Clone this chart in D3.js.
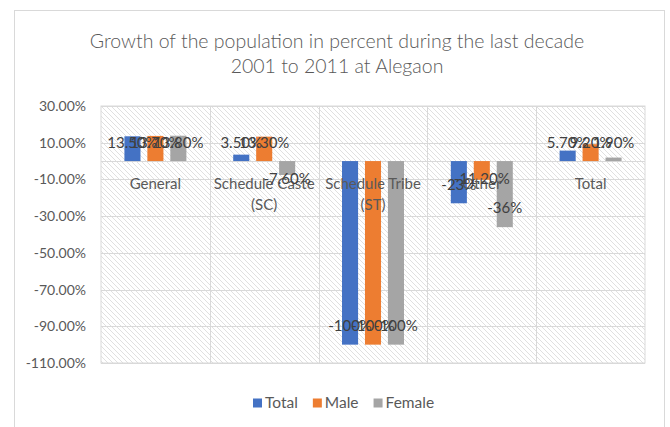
<!DOCTYPE html>
<html>
<head>
<meta charset="utf-8">
<script src="https://cdn.jsdelivr.net/npm/d3@7"></script>
<style>
  body { margin: 0; background: #fff; }
  text { font-family: Lato, "Open Sans", sans-serif; }
</style>
</head>
<body>
<div class="chart"></div>
<script>
// data
const categories = ["General", "Schedule Caste (SC)", "Schedule Tribe (ST)", "Other", "Total"]
const series = ["Total", "Male", "Female"]
const totalValues = [13.5, 3.5, -100, -23, 5.7]
const maleValues = [13.7, 13.3, -100, -10.2, 9.2]
const femaleValues = [13.8, -7.6, -100, -36, 1.9]
const totalLabels = ["13.50%", "3.50%", "-100%", "-23%", "5.70%"]
const maleLabels = ["13.70%", "13.30%", "-100%", "-11.20%", "9.20%"]
const femaleLabels = ["13.80%", "-7.60%", "-100%", "-36%", "1.90%"]
const yTicks = [30, 10, -10, -30, -50, -70, -90, -110]
const titleLines = ["Growth of the population in percent during the last decade", "2001 to 2011 at Alegaon"]

const colors = ["#4472C4", "#ED7D31", "#A5A5A5"]
const values = [totalValues, maleValues, femaleValues]
const labels = [totalLabels, maleLabels, femaleLabels]

const w = 670
const h = 427
const plot = {left: 101, right: 645, top: 106, bottom: 363}

const svg = d3.select(".chart")
  .append("svg")
  .attr("width", w)
  .attr("height", h)

// hatch pattern for plot area
const pat = svg.append("defs").append("pattern")
  .attr("id", "hatch")
  .attr("patternUnits", "userSpaceOnUse")
  .attr("width", 5)
  .attr("height", 5)
pat.append("rect").attr("width", 5).attr("height", 5).attr("fill", "#fff")
pat.append("path")
  .attr("d", "M-1,-1 L6,6 M4,-1 L6,1 M-1,4 L1,6")
  .attr("stroke", "#dcdcdc")
  .attr("stroke-width", 0.9)

// chart border
svg.append("rect")
  .attr("x", 14.5).attr("y", 10.5)
  .attr("width", 650).attr("height", 430)
  .attr("fill", "none")
  .attr("stroke", "#d9d9d9")

// title
svg.append("g").selectAll("text")
  .data(titleLines)
  .enter()
  .append("text")
  .attr("x", 337)
  .attr("y", (d, i) => 48 + i * 25)
  .attr("text-anchor", "middle")
  .attr("fill", "#595959")
  .style("font-size", "19.5px")
  .style("font-weight", 300)
  .text(d => d)

// scales
const x0 = d3.scaleBand()
  .domain(categories)
  .range([plot.left, plot.right])

const x1 = d3.scaleBand()
  .domain(series)
  .range([0, x0.bandwidth()])
  .paddingInner(0.3)
  .paddingOuter(1.02)

const y = d3.scaleLinear()
  .domain([-110, 30])
  .range([plot.bottom, plot.top])

// plot area
svg.append("rect")
  .attr("x", plot.left).attr("y", plot.top)
  .attr("width", plot.right - plot.left)
  .attr("height", plot.bottom - plot.top)
  .attr("fill", "url(#hatch)")
  .attr("stroke", "#d9d9d9")

// horizontal gridlines
svg.append("g").selectAll("line")
  .data(yTicks)
  .enter()
  .append("line")
  .attr("x1", plot.left).attr("x2", plot.right)
  .attr("y1", d => Math.round(y(d)) + 0.5)
  .attr("y2", d => Math.round(y(d)) + 0.5)
  .attr("stroke", "#d9d9d9")

// vertical gridlines at category edges
svg.append("g").selectAll("line")
  .data(categories.slice(1))
  .enter()
  .append("line")
  .attr("x1", d => Math.round(x0(d)) + 0.5)
  .attr("x2", d => Math.round(x0(d)) + 0.5)
  .attr("y1", plot.top).attr("y2", plot.bottom)
  .attr("stroke", "#d9d9d9")

// y axis
const yAxis = d3.axisLeft(y)
  .tickValues(yTicks)
  .tickSize(0)
  .tickPadding(15)
  .tickFormat(d => d.toFixed(2) + "%")
const yG = svg.append("g")
  .attr("transform", "translate(" + plot.left + ",0)")
  .call(yAxis)
yG.select(".domain").remove()
yG.selectAll("text")
  .attr("fill", "#595959")
  .style("font-size", "14px")
  .style("font-family", "Lato, sans-serif")

// zero line
svg.append("line")
  .attr("x1", plot.left).attr("x2", plot.right)
  .attr("y1", Math.round(y(0)) + 0.5).attr("y2", Math.round(y(0)) + 0.5)
  .attr("stroke", "#d9d9d9")

// bars
series.forEach((s, si) => {
  svg.append("g").selectAll("rect")
    .data(values[si])
    .enter()
    .append("rect")
    .attr("x", (d, i) => x0(categories[i]) + x1(s))
    .attr("y", d => y(Math.max(0, d)))
    .attr("width", x1.bandwidth())
    .attr("height", d => Math.abs(y(d) - y(0)))
    .attr("fill", colors[si])
})

// category labels, drawn next to the zero line
const catG = svg.append("g")
categories.forEach(c => {
  const lines = c.indexOf("(") > 0 ? [c.slice(0, c.indexOf("(")).trim(), c.slice(c.indexOf("("))] : [c]
  catG.append("text")
    .attr("x", x0(c) + x0.bandwidth() / 2)
    .attr("y", y(0) + 28)
    .attr("text-anchor", "middle")
    .attr("fill", "#595959")
    .style("font-size", "15px")
    .selectAll("tspan")
    .data(lines)
    .enter()
    .append("tspan")
    .attr("x", x0(c) + x0.bandwidth() / 2)
    .attr("dy", (d, i) => i == 0 ? 0 : 21)
    .text(d => d)
})

// data labels: inside end if bar is long, else just outside near the axis
series.forEach((s, si) => {
  svg.append("g").selectAll("text")
    .data(values[si])
    .enter()
    .append("text")
    .attr("x", (d, i) => x0(categories[i]) + x1(s) + x1.bandwidth() / 2)
    .attr("y", d => {
      const len = Math.abs(y(d) - y(0))
      const off = Math.max(18, len - 19)
      return y(0) + (d < 0 ? off : -off)
    })
    .attr("dy", "0.35em")
    .attr("text-anchor", "middle")
    .attr("fill", "#404040")
    .style("font-size", "15px")
    .text((d, i) => labels[si][i])
})

// legend
const legend = svg.append("g").attr("transform", "translate(253,403)")
let lx = 0
series.forEach((s, si) => {
  legend.append("rect")
    .attr("x", lx).attr("y", -4.5)
    .attr("width", 9).attr("height", 9)
    .attr("fill", colors[si])
  const t = legend.append("text")
    .attr("x", lx + 12)
    .attr("dy", "0.35em")
    .attr("fill", "#595959")
    .style("font-size", "15.5px")
    .text(s)
  lx += 12 + t.node().getComputedTextLength() + 15
})
</script>
</body>
</html>
